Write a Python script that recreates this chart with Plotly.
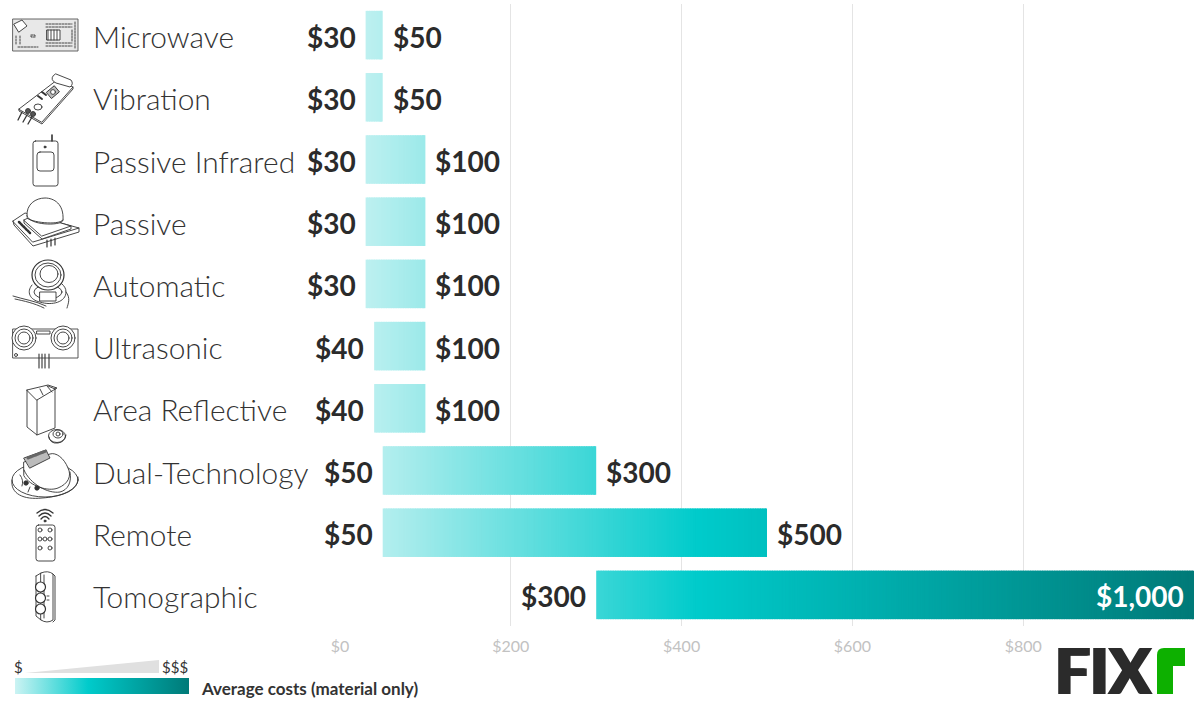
import base64
import plotly.graph_objects as go

categories = ["Microwave", "Vibration", "Passive Infrared", "Passive", "Automatic",
              "Ultrasonic", "Area Reflective", "Dual-Technology", "Remote", "Tomographic"]
low_costs = [30, 30, 30, 30, 30, 40, 40, 50, 50, 300]
high_costs = [50, 50, 100, 100, 100, 100, 100, 300, 500, 1000]
x_ticks = [0, 200, 400, 600, 800]
x_tick_labels = ["$0", "$200", "$400", "$600", "$800"]
color_stops = [[0.0, "#ccf3f3"], [0.42, "#00cbcb"], [1.0, "#007a78"]]

W, H = 1200, 701
L, R, T, B = 340, 1194, 4, 626
STEP = 2


def px(x):
    return (x - L) / (R - L)


def py(y):
    return (B - y) / (B - T)


# gradient bars: each bar is painted as short overlapping spans so colour follows the cost scale
ys, bases, lengths, colors = [], [], [], []
for cat, lo, hi in zip(categories, low_costs, high_costs):
    for s in range(lo, hi, STEP):
        ys.append(cat)
        bases.append(s)
        lengths.append(min(STEP + 1, hi - s))
        colors.append(s + STEP / 2)

fig = go.Figure(go.Bar(
    y=ys, x=lengths, base=bases, orientation="h", width=0.78,
    marker=dict(color=colors, colorscale=color_stops, cmin=0, cmax=1000, line_width=0,
                colorbar=dict(orientation="h", lenmode="pixels", len=174, thicknessmode="pixels",
                              thickness=16, x=px(15), xanchor="left", y=py(694), yanchor="bottom",
                              xpad=0, ypad=0, outlinewidth=0, showticklabels=False, ticks="")),
    hoverinfo="skip", showlegend=False,
))

ann = []
for cat, lo, hi in zip(categories, low_costs, high_costs):
    ann.append(dict(x=0, xref="paper", xshift=91 - L, y=cat, yref="y", yshift=-1, text=cat, showarrow=False,
                    xanchor="left", font=dict(family="Lato", size=29.9, color="#333333", weight=300)))
    ann.append(dict(x=lo, xref="x", y=cat, yref="y", yshift=-1.5, text=f"${lo:,}", showarrow=False, xanchor="right",
                    xshift=-8, font=dict(family="Lato", size=28, color="#2b2b2b", weight=700)))
    if hi >= 1000:
        ann.append(dict(x=hi, xref="x", y=cat, yref="y", yshift=-1.5, text=f"${hi:,}", showarrow=False, xanchor="right",
                        xshift=-8, font=dict(family="Lato", size=28, color="#ffffff", weight=700)))
    else:
        ann.append(dict(x=hi, xref="x", y=cat, yref="y", yshift=-1.5, text=f"${hi:,}", showarrow=False, xanchor="left",
                        xshift=8, bgcolor="#ffffff",
                        font=dict(family="Lato", size=28, color="#2b2b2b", weight=700)))

ann += [
    dict(x=px(12), y=py(667), xref="paper", yref="paper", text="$", showarrow=False, xanchor="left",
         yanchor="middle", font=dict(family="Lato", size=15, color="#333333")),
    dict(x=px(160), y=py(667), xref="paper", yref="paper", text="$$$", showarrow=False, xanchor="left",
         yanchor="middle", font=dict(family="Lato", size=15, color="#333333")),
    dict(x=px(199), y=py(688), xref="paper", yref="paper", text="Average costs (material only)",
         showarrow=False, xanchor="left", yanchor="middle",
         font=dict(family="Lato", size=17, color="#333333", weight=700)),
    dict(x=px(1103.5), y=py(670), xref="paper", yref="paper", text="FIX", showarrow=False, xanchor="center",
         yanchor="middle", borderpad=0,
         font=dict(family="Lato", size=62, color="#2b2b2b", weight=900,
                   shadow="1.5px 0 0 #2b2b2b, -1.5px 0 0 #2b2b2b")),
]

ICONS = """<svg xmlns='http://www.w3.org/2000/svg' width='90' height='640' viewBox='0 0 90 640' fill='none' stroke='#333' stroke-width='0.9' stroke-linejoin='round' stroke-linecap='round'>
<rect x='13' y='19' width='65' height='32' fill='#e8e8e8' stroke='#555'/>
<path d='M14 24 L22 20 L27 26 L19 32 Z' fill='#fff'/>
<rect x='47' y='30' width='13' height='10' fill='#fff'/>
<path d='M48 30 V40 M51 30 V40 M54 30 V40 M57 30 V40' />
<path d='M46 24 H72 M46 27 H72 M46 43 H72 M46 46 H72 M18 47 H38 M16 36 V44 M20 36 V44' stroke-dasharray='2 1.2'/>
<path d='M31 35 h4 v2 h-4 z M72 30 V42 M75 22 V48' stroke-dasharray='2 1'/>

<path d='M19 109 L57 80 L73 87 L42 122 Z' fill='#fff'/>
<path d='M19 109 L19 111 L42 124 L73 89 L73 87'/>
<path d='M53 76 Q50 80 56 83 L70 87 Q74 84 71 80 L56 74 Z' fill='#fff'/>
<ellipse cx='38' cy='107' rx='4' ry='3' />
<rect x='48' y='88' width='10' height='8' transform='rotate(-40 53 92)' fill='#bbb'/>
<circle cx='53' cy='92' r='2.4' fill='#fff'/>
<circle cx='28' cy='111' r='2.5' fill='#555'/><circle cx='33' cy='114' r='2.5' fill='#555'/>
<path d='M22 112 L18 120 M27 115 L23 122 M32 117 L28 124' stroke-width='1.3'/>
<path d='M38 96 l4 3 M42 92 l4 3' stroke-width='2'/>

<path d='M52 135 V141' stroke-width='1.6'/>
<rect x='33' y='141' width='25' height='45' rx='2.5'/>
<rect x='37' y='152' width='17' height='19' rx='3'/>
<circle cx='45' cy='147' r='1' fill='#333'/>

<path d='M13 221 L25 213 L79 228 L33 242 Z' fill='#fff'/>
<path d='M13 221 L14 225 L33 246 L79 232 L79 228'/>
<path d='M24 220 L34 215 L71 226 L42 236 Z M24 220 L24 223 L42 239 L71 229 L71 226' fill='#fff'/>
<path d='M27 216 C26 204 36 198 45 198 C54 198 64 204 63 220 C63 226 30 226 27 216 Z' fill='#fff'/>
<path d='M27 218 C30 222 58 226 63 220'/>
<path d='M19 222 L30 233' stroke-width='2.5' stroke-dasharray='2 1'/>
<path d='M47 240 V247 M51 239 V246 M55 238 V245' stroke-width='1.2'/>

<path d='M13 296 C22 299 36 301 46 306 M15 299 C24 301 34 303 44 308' />
<path d='M32 285 C26 292 30 300 40 302 C52 306 66 302 66 292 C66 288 64 286 62 284'/>
<ellipse cx='48' cy='292' rx='14' ry='7' fill='#fff'/>
<path d='M66 292 C71 298 68 304 67 308'/>
<rect x='40' y='292' width='16' height='9' fill='#fff'/>
<ellipse cx='48' cy='275' rx='16' ry='15' fill='#fff' stroke-width='1.2'/>
<ellipse cx='48' cy='275' rx='13' ry='12'/>
<ellipse cx='49' cy='274' rx='9' ry='8.5' fill='#fff'/>

<rect x='13' y='329' width='65' height='29' stroke='#444'/>
<circle cx='24' cy='338' r='12' fill='#fff'/><circle cx='24' cy='338' r='9'/><circle cx='24' cy='338' r='6'/>
<circle cx='63' cy='338' r='12' fill='#fff'/><circle cx='63' cy='338' r='9'/><circle cx='63' cy='338' r='6'/>
<rect x='37' y='331' width='13' height='3'/>
<circle cx='16' cy='355' r='1.5'/>
<path d='M39 354 V368 M42 354 V368 M45 354 V368 M49 354 V368' stroke-width='1.1'/>

<path d='M27 390 L48 385 L57 388 L37 400 Z' fill='#fff'/>
<path d='M27 390 V427 L37 435 V400 M37 435 L55 428 V388'/>
<path d='M40 389 L43 395 M47 386 L52 392 M48 386 L55 389' />
<ellipse cx='57' cy='436' rx='8.5' ry='6.5' fill='#fff'/>
<ellipse cx='58' cy='434' rx='5' ry='4'/><circle cx='58' cy='434' r='2'/>
<path d='M49 437 Q50 444 58 443 Q65 442 66 435'/>

<ellipse cx='45' cy='480' rx='33' ry='17' fill='#fff'/>
<path d='M12 480 C10 494 24 500 42 498 C60 497 80 490 78 477'/>
<path d='M24 462 L50 454 C56 452 64 458 68 468 C72 476 68 484 58 488 C48 492 30 486 24 476 Z' fill='#fff'/>
<path d='M24 470 C30 484 48 494 60 492 C68 490 72 482 70 472'/>
<path d='M24 458 L46 450 L50 458 L30 468 Z' fill='#bbb'/>
<path d='M28 458 L46 451' stroke-width='3' stroke='#666' stroke-dasharray='1.5 1'/>
<circle cx='26' cy='483' r='2.2' fill='#333'/><circle cx='37' cy='488' r='2.2' fill='#333'/>
<path d='M20 475 Q24 480 22 486 M30 487 L28 492'/>

<path d='M37 513 Q45 506 53 513 M39 516 Q45 510 51 516 M41 519 Q45 514 49 519 ' stroke-width='1.3'/>
<circle cx='45' cy='521' r='1' fill='#333'/>
<rect x='36' y='525' width='19' height='36' rx='2.5'/>
<circle cx='40' cy='530' r='2'/><circle cx='50' cy='530' r='2'/>
<circle cx='40' cy='539' r='2'/><circle cx='45' cy='539' r='2'/><circle cx='50' cy='539' r='2'/>
<circle cx='40' cy='548' r='2'/><circle cx='50' cy='548' r='2'/>

<path d='M41 573 Q48 570 53 574 V620 Q47 624 41 620 Z'/>
<path d='M36 576 L41 573 M36 576 V616 L41 620 M44 575 V618 M53 574 L55 576 V620 L53 622'/>
<circle cx='40.5' cy='587' r='5' stroke-width='1.2' fill='#fff'/>
<circle cx='40.5' cy='598' r='5' stroke-width='1.2' fill='#fff'/>
<circle cx='40.5' cy='609' r='5' stroke-width='1.2' fill='#fff'/>
<path d='M47 596 h2 M47 600 h2' />
</svg>"""

LOGO = """<svg xmlns='http://www.w3.org/2000/svg' width='30' height='48' viewBox='0 0 30 48'>
<path d='M1 47 V8 Q1 1 8 1 H29 V19 H17 V47 Z' fill='#0db000'/></svg>"""


def data_uri(svg):
    return "data:image/svg+xml;base64," + base64.b64encode(svg.encode()).decode()


images = [
    dict(source=data_uri(ICONS), xref="paper", yref="paper", x=px(0), y=py(0), sizex=90 / (R - L),
         sizey=640 / (B - T), sizing="stretch", xanchor="left", yanchor="top", layer="above"),
    dict(source=data_uri(LOGO), xref="paper", yref="paper", x=px(1156), y=py(647), sizex=30 / (R - L),
         sizey=48 / (B - T), sizing="stretch", xanchor="left", yanchor="top", layer="above"),
]

shapes = [dict(type="path", xref="paper", yref="paper",
               path=f"M {px(25)} {py(673)} L {px(159)} {py(660)} L {px(159)} {py(673)} Z",
               fillcolor="#e0e0e0", line_width=0)]

fig.update_layout(
    width=W, height=H, autosize=False, plot_bgcolor="#ffffff", paper_bgcolor="#ffffff",
    margin=dict(l=L, r=W - R, t=T, b=H - B, pad=0),
    barmode="overlay", annotations=ann, images=images, shapes=shapes,
    font=dict(family="Lato"),
    xaxis=dict(range=[0, 1000], tickvals=x_ticks, ticktext=x_tick_labels, showgrid=True,
               gridcolor="#e4e4e4", gridwidth=1, zeroline=False, showline=False, ticks="",
               tickfont=dict(family="Lato", size=16, color="#c2c2c2"), ticklabelstandoff=9),
    yaxis=dict(type="category", categoryorder="array", categoryarray=categories,
               range=[9.5, -0.5], showticklabels=False, showgrid=False, zeroline=False, showline=False),
)

fig.write_html("out.html", config=dict(displayModeBar=False),
               post_script="document.body.style.margin='0';document.body.style.overflow='hidden';")
